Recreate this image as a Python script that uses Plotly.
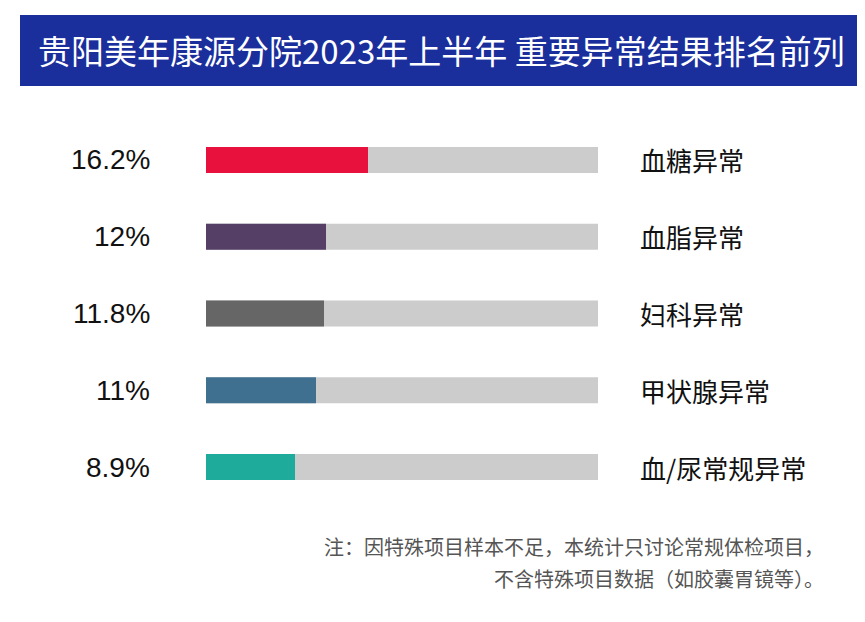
import plotly.graph_objects as go

categories = ["血糖异常", "血脂异常", "妇科异常", "甲状腺异常", "血/尿常规异常"]
values = [16.2, 12, 11.8, 11, 8.9]
value_labels = ["16.2%", "12%", "11.8%", "11%", "8.9%"]
colors = ["#e8103c", "#553f66", "#666666", "#3f7090", "#1fab9c"]
track_max = 39.2

FONT = "Noto Sans CJK SC, Noto Sans, sans-serif"
OFF = 8  # page body margin


def px(x):
    return (x - OFF) / 865


def py(y):
    return 1 - (y - OFF) / 622


fig = go.Figure()
fig.add_trace(go.Bar(y=categories, x=[track_max] * len(categories), orientation="h",
                     marker=dict(color="#cccccc", line_width=0), hoverinfo="skip"))
fig.add_trace(go.Bar(y=categories, x=values, orientation="h",
                     marker=dict(color=colors, line_width=0)))

ann = []
for c, lab in zip(categories, value_labels):
    ann.append(dict(x=px(152), xref="paper", y=c, yref="y", text=lab, showarrow=False,
                    xanchor="right", font=dict(size=28, color="#111", family="Liberation Sans, Arial")))
    ann.append(dict(x=px(638), xref="paper", y=c, yref="y", text=c, showarrow=False,
                    xanchor="left", font=dict(size=26, color="#111", family=FONT)))
ann.append(dict(x=px(441), xref="paper", y=py(50), yref="paper", yanchor="middle",
                text="贵阳美年康源分院2023年上半年 重要异常结果排名前列", showarrow=False,
                font=dict(size=33, color="white", family=FONT)))
ann.append(dict(x=px(826), xref="paper", y=py(546), yref="paper", xanchor="right", yanchor="middle",
                text="注：因特殊项目样本不足，本统计只讨论常规体检项目，", showarrow=False,
                font=dict(size=20, color="#555", family=FONT)))
ann.append(dict(x=px(826), xref="paper", y=py(578), yref="paper", xanchor="right", yanchor="middle",
                text="不含特殊项目数据（如胶囊胃镜等）。", showarrow=False,
                font=dict(size=20, color="#555", family=FONT)))

fig.update_layout(
    width=865, height=622, margin=dict(l=0, r=0, t=0, b=0),
    paper_bgcolor="white", plot_bgcolor="white",
    barmode="overlay", bargap=0.66, showlegend=False,
    xaxis=dict(domain=[px(206), px(598)], range=[0, track_max], visible=False),
    yaxis=dict(domain=[py(505.4), py(121.6)], autorange="reversed", visible=False),
    shapes=[dict(type="rect", xref="paper", yref="paper", x0=px(20), x1=px(862),
                 y0=py(86), y1=py(15), fillcolor="#1a2e9c", line_width=0, layer="below")],
    annotations=ann,
)
fig.write_html("out.html")
